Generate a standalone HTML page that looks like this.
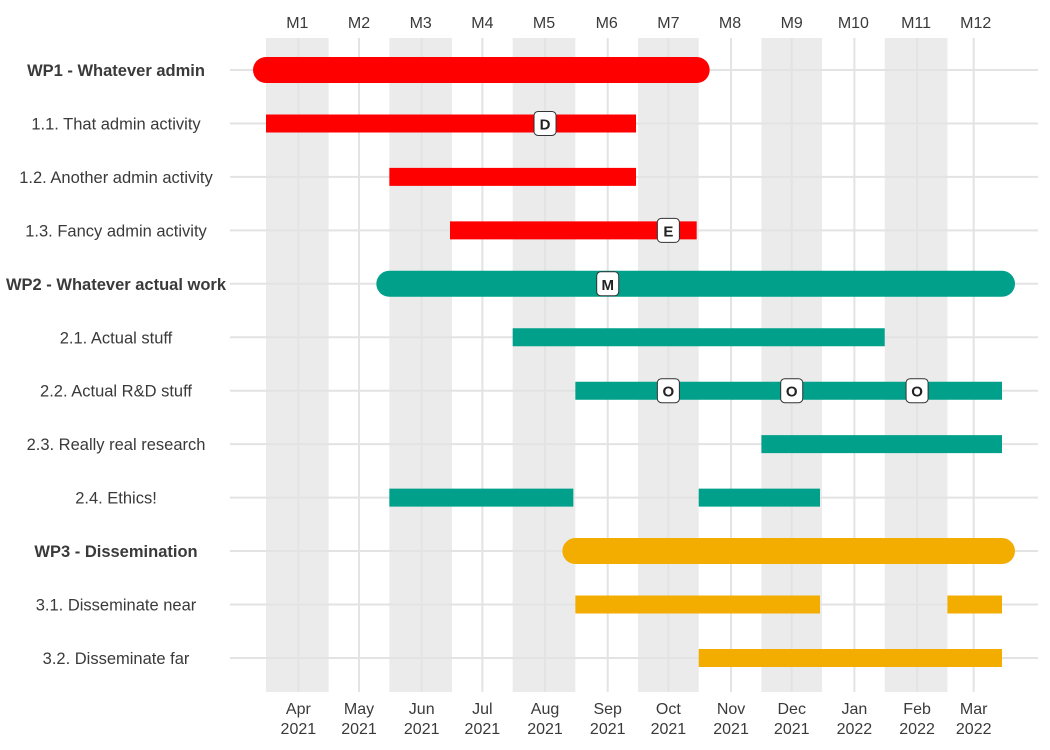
<!DOCTYPE html>
<html><head><meta charset="utf-8"><style>
body{margin:0;background:#fff}
svg{display:block;font-family:"Liberation Sans Narrow","Liberation Sans",sans-serif}
</style></head><body>
<svg id="c" width="1050" height="750"></svg>
<script>
const rowLabels=["WP1 - Whatever admin","1.1. That admin activity","1.2. Another admin activity","1.3. Fancy admin activity","WP2 - Whatever actual work","2.1. Actual stuff","2.2. Actual R&D stuff","2.3. Really real research","2.4. Ethics!","WP3 - Dissemination","3.1. Disseminate near","3.2. Disseminate far"];
const rowIsWP=[1,0,0,0,1,0,0,0,0,1,0,0];
const rowGroup=[0,0,0,0,1,1,1,1,1,2,2,2];
const groupColors=["#ff0000","#00a08a","#f2ad00"];
const bars=[[0,"2021-03-16","2021-10-15"],[1,"2021-03-16","2021-09-15"],[2,"2021-05-16","2021-09-15"],[3,"2021-06-15","2021-10-15"],[4,"2021-05-16","2022-03-15"],[5,"2021-07-16","2022-01-16"],[6,"2021-08-16","2022-03-15"],[7,"2021-11-16","2022-03-15"],[8,"2021-05-16","2021-08-15"],[8,"2021-10-16","2021-12-15"],[9,"2021-08-16","2022-03-15"],[10,"2021-08-16","2021-12-15"],[10,"2022-02-16","2022-03-15"],[11,"2021-10-16","2022-03-15"]];
const milestones=[[1,"2021-08-01","D"],[3,"2021-10-01","E"],[4,"2021-09-01","M"],[6,"2021-10-01","O"],[6,"2021-12-01","O"],[6,"2022-02-01","O"]];
const monthTicks=["2021-04-01","2021-05-01","2021-06-01","2021-07-01","2021-08-01","2021-09-01","2021-10-01","2021-11-01","2021-12-01","2022-01-01","2022-02-01","2022-03-01"];
const monthLabels=[["Apr","2021"],["May","2021"],["Jun","2021"],["Jul","2021"],["Aug","2021"],["Sep","2021"],["Oct","2021"],["Nov","2021"],["Dec","2021"],["Jan","2022"],["Feb","2022"],["Mar","2022"]];
const projMonthStarts=["2021-03-16","2021-04-16","2021-05-16","2021-06-16","2021-07-16","2021-08-16","2021-09-16","2021-10-16","2021-11-16","2021-12-16","2022-01-16","2022-02-16","2022-03-16"];
const projMonthLabels=["M1","M2","M3","M4","M5","M6","M7","M8","M9","M10","M11","M12"];

const NS="http://www.w3.org/2000/svg";const svg=document.getElementById('c');
const t0=Date.parse("2021-03-16"),t1=Date.parse("2022-03-15");
function x(d){return 266+(Date.parse(d)-t0)/(t1-t0)*736;}
function y(i){return 70+i*53.45;}
function el(tag,a,p){const e=document.createElementNS(NS,tag);for(const k in a)e.setAttribute(k,a[k]);(p||svg).appendChild(e);return e;}
const SX=1;
function txt(s,tx,ty,attrs,p){const g=el('g',{transform:'translate('+tx+','+ty+') scale('+SX+',1)'},p);const t=el('text',Object.assign({x:0,y:0,'text-anchor':'middle'},attrs),g);t.textContent=s;return t;}
const plotTop=38,plotBot=692;
for(let i=0;i<12;i+=2){const r=el('rect',{x:x(projMonthStarts[i]),y:plotTop,width:x(projMonthStarts[i+1])-x(projMonthStarts[i]),height:plotBot-plotTop,fill:'#ebebeb'});

}
monthTicks.forEach(d=>{const l=el('line',{x1:x(d),x2:x(d),y1:plotTop,y2:plotBot,stroke:'#e3e3e3','stroke-width':2});

});
rowLabels.forEach((s,i)=>{const l=el('line',{x1:230,x2:1038,y1:y(i),y2:y(i),stroke:'#e3e3e3','stroke-width':2});

});
rowLabels.forEach((s,i)=>{const t=txt(s,116,y(i)+6,{'font-size':16.5,fill:'#3a3a3a','font-weight':rowIsWP[i]?'bold':'normal'});

});
bars.forEach(b=>{const i=b[0],wp=rowIsWP[i],c=groupColors[rowGroup[i]];
const l=el('line',{x1:x(b[1]),x2:x(b[2]),y1:y(i),y2:y(i),stroke:c,'stroke-width':wp?26:18,'stroke-linecap':wp?'round':'butt'});

});
milestones.forEach(m=>{const g=el('g',{});


const cx=x(m[1]),cy=y(m[0]);
el('rect',{x:cx-11,y:cy-12,width:22,height:24,rx:4,fill:'#fff',stroke:'#333','stroke-width':1},g);
txt(m[2],cx,cy+6,{'font-size':15,'font-weight':'bold',fill:'#222'},g);});
projMonthLabels.forEach((s,i)=>{const cx=(x(projMonthStarts[i])+x(projMonthStarts[i+1]))/2;
const t=txt(s,cx,28,{'font-size':16,fill:'#3a3a3a'});

});
monthTicks.forEach((d,i)=>{const g=el('g',{transform:'translate('+x(d)+',714) scale('+SX+',1)'});
const t=el('text',{x:0,y:0,'text-anchor':'middle','font-size':16,fill:'#3a3a3a'},g);


const a=el('tspan',{x:0},t);a.textContent=monthLabels[i][0];
const b=el('tspan',{x:0,dy:20},t);b.textContent=monthLabels[i][1];});
</script>
</body></html>
